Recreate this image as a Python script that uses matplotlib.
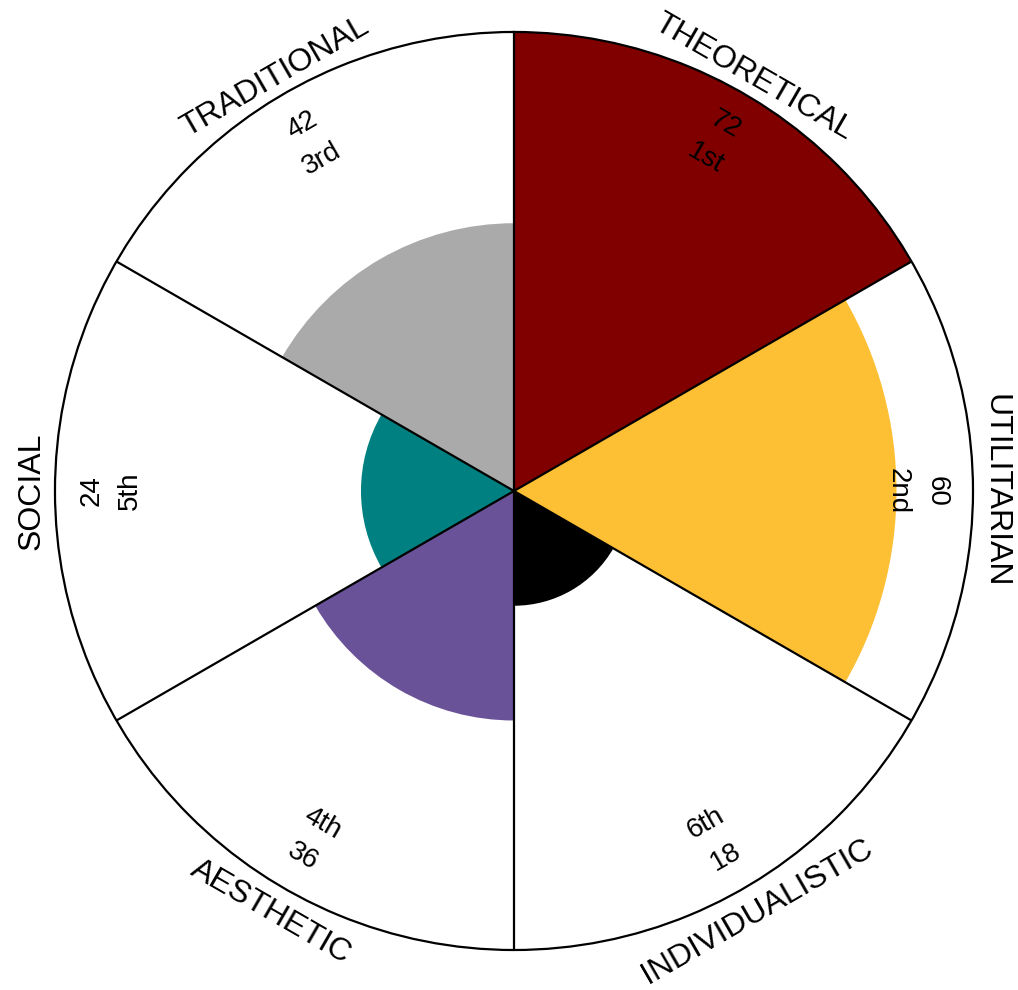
import numpy as np
import matplotlib.pyplot as plt

plt.rcParams['font.family'] = ['Liberation Sans', 'DejaVu Sans']

categories = ["THEORETICAL", "UTILITARIAN", "INDIVIDUALISTIC", "AESTHETIC", "SOCIAL", "TRADITIONAL"]
values = [72, 60, 18, 36, 24, 42]
ranks = ["1st", "2nd", "6th", "4th", "5th", "3rd"]
colors = ["#800000", "#FDBF33", "#000000", "#6A5299", "#008080", "#AAAAAA"]

fig = plt.figure(figsize=(10.18, 9.9), dpi=100)
ax = fig.add_axes([0.054, 0.0404, 0.9018, 0.9273], projection="polar")
ax.set_theta_zero_location("N")
ax.set_theta_direction(-1)

n = len(categories)
width = 2 * np.pi / n
centers = np.arange(n) * width + width / 2
rmax = max(values)

ax.bar(centers, values, width=width, bottom=0, color=colors, edgecolor="none", linewidth=0)

# sector boundaries
for k in range(n):
    ax.plot([k * width, k * width], [0, rmax], color="black", lw=1.6, zorder=3)

ax.set_ylim(0, rmax)
ax.set_xticks([])
ax.set_yticks([])
ax.grid(False)
ax.spines["polar"].set_linewidth(1.6)

for th, cat, v, rk in zip(centers, categories, values, ranks):
    deg = np.degrees(th)
    if deg <= 90 or deg >= 270:
        rot = -deg
    else:
        rot = 180 - deg
    # labels sit a bit further out on the lower half
    r_lab = 75.0 if (deg < 60 or deg > 300) else (76.2 if 120 < deg < 240 else 75.6)
    ax.text(th, 66.3, str(v), rotation=rot, rotation_mode="anchor",
            ha="center", va="center", fontsize=20)
    ax.text(th, 60.2, rk, rotation=rot, rotation_mode="anchor",
            ha="center", va="center", fontsize=20)
    ax.text(th, r_lab, cat, rotation=rot, rotation_mode="anchor",
            ha="center", va="center", fontsize=23, clip_on=False)

fig.savefig("out.png", dpi=100)
